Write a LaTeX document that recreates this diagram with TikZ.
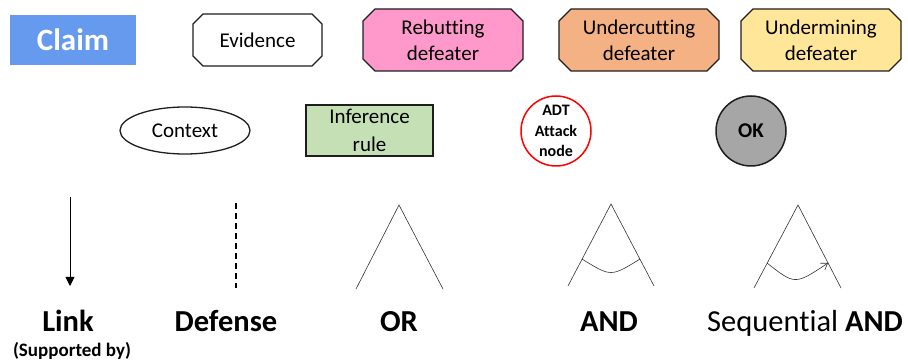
\documentclass[tikz,border=0pt]{standalone}
\usepackage{fontspec}
\setmainfont[Ligatures=NoCommon]{Carlito}
\usetikzlibrary{shapes.misc,shapes.geometric,arrows.meta}
\definecolor{claimblue}{RGB}{101,154,239}
\definecolor{rebpink}{RGB}{255,153,204}
\definecolor{undorange}{RGB}{244,177,131}
\definecolor{undyellow}{RGB}{255,230,153}
\definecolor{infgreen}{RGB}{197,224,180}
\definecolor{okgray}{RGB}{166,166,166}
\definecolor{edge}{RGB}{30,30,30}
\tikzset{
  chamf/.style={chamfered rectangle, chamfered rectangle xsep=6pt, chamfered rectangle ysep=6pt,
     draw=edge, line width=1.3pt, inner sep=0pt, align=center,
     font=\fontsize{21}{26}\selectfont},
  plain/.style={font=\fontsize{21}{26}\selectfont, align=center},
  biglabel/.style={font=\fontsize{30.5}{34}\selectfont\bfseries, anchor=base},
  gateline/.style={line width=0.6pt, draw=black!80},
}
\begin{document}
\begin{tikzpicture}[x=1pt,y=-1pt]
\useasboundingbox (0,0) rectangle (908,363);
% top row
\node[fill=claimblue, minimum width=126pt, minimum height=50pt, inner sep=0pt,
      text=white, font=\fontsize{31}{36}\selectfont\bfseries] (claim) at (73,40) {Claim};
\node[chamf, chamfered rectangle xsep=5pt, chamfered rectangle ysep=5pt,
      minimum width=129pt, minimum height=52pt, fill=white] (evidence) at (257.5,40) {Evidence};
\node[chamf, fill=rebpink, minimum width=160pt, minimum height=62pt] (rebut) at (443,40) {Rebutting\\defeater};
\node[chamf, fill=undorange, minimum width=160pt, minimum height=62pt] (undercut) at (639,40) {Undercutting\\defeater};
\node[chamf, fill=undyellow, minimum width=160pt, minimum height=62pt] (undermine) at (821,40) {Undermining\\defeater};
% second row
\node[ellipse, draw=edge, line width=1.3pt, minimum width=130pt, minimum height=47pt, inner sep=0pt, plain] (context) at (185,130.5) {Context};
\node[rectangle, draw=edge, line width=1.3pt, fill=infgreen, minimum width=127pt, minimum height=51pt, inner sep=0pt, plain,
      font=\fontsize{21}{28}\selectfont] (infer) at (369.5,130.5) {Inference\\rule};
\node[circle, draw=red, line width=1.5pt, minimum size=70pt, inner sep=0pt, align=center,
      font=\fontsize{16}{20.5}\selectfont\bfseries] (adt) at (556,131) {ADT\\Attack\\node};
\node[circle, draw=edge, line width=1.5pt, fill=okgray, minimum size=70pt, inner sep=0pt,
      font=\fontsize{21}{24}\selectfont\bfseries] (ok) at (751,131) {OK};
% Link
\coordinate (linktop) at (70,197);
\coordinate (linkbot) at (70,286);
\draw[line width=0.9pt, -{Triangle[length=9pt,width=9pt]}] (linktop) -- (linkbot);
\node[biglabel] (link) at (68,332) {Link};
\node[font=\fontsize{19}{21}\selectfont\bfseries, anchor=base] (supp) at (72,357) {(Supported by)};
% Defense
\coordinate (deftop) at (236,203);
\coordinate (defbot) at (236,288);
\draw[line width=1.2pt, dash pattern=on 6pt off 4pt] (deftop) -- (defbot);
\node[biglabel] (defense) at (226,332) {Defense};
% OR
\coordinate (orl) at (356,289);
\coordinate (ora) at (399,205);
\coordinate (orr) at (443,289);
\draw[gateline] (orl) -- (ora) -- (orr);
\node[biglabel] (or) at (399,332) {OR};
% AND
\coordinate (andl) at (568,286);
\coordinate (anda) at (611,204);
\coordinate (andr) at (654,286);
\coordinate (andal) at (582,259);
\coordinate (andar) at (640,259);
\draw[gateline] (andl) -- (anda) -- (andr);
\draw[gateline] (andal) .. controls (611,277) .. (andar);
\node[biglabel] (and) at (609,332) {AND};
% Sequential AND
\coordinate (seql) at (754,288);
\coordinate (seqa) at (798,205);
\coordinate (seqr) at (841,288);
\coordinate (seqal) at (767,263);
\coordinate (seqar) at (828,263);
\draw[gateline] (seql) -- (seqa) -- (seqr);
\draw[gateline, -{Straight Barb[length=6pt,width=8pt]}] (seqal) .. controls (795,285) .. (seqar);
\node[font=\fontsize{30.5}{34}\selectfont, anchor=base] (seqand) at (805,332) {Sequential \textbf{AND}};
\end{tikzpicture}
\end{document}
